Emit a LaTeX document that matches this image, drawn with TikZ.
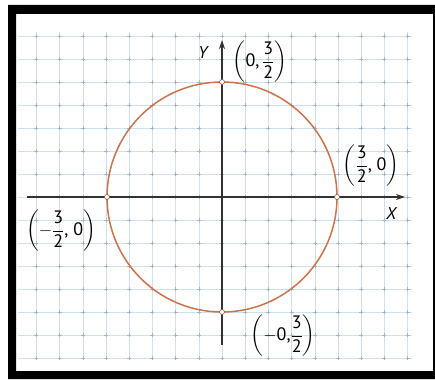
\documentclass[tikz,border=0pt]{standalone}
\usepackage{amsmath}
\usepackage{fontspec}
\setmainfont{PT Sans}
\usetikzlibrary{arrows.meta}
\definecolor{gridblue}{RGB}{205,226,240}
\definecolor{crossgray}{RGB}{170,180,190}
\definecolor{axisgray}{RGB}{50,50,50}
\definecolor{circ}{RGB}{205,115,75}
\tikzset{
  gridline/.style={gridblue,line width=0.6pt},
  crossmark/.style={crossgray,line width=0.5pt},
  axisline/.style={axisgray,line width=1.1pt,-{Stealth[length=9pt,width=6pt]}},
  curve/.style={circ,line width=1.5pt},
  ptmark/.style={circle,draw=circ!70!black,fill=white,inner sep=0pt,minimum size=5pt,line width=0.6pt},
  lbl/.style={inner sep=0pt,font=\fontsize{18}{21}\selectfont},
  axlbl/.style={inner sep=0pt,font=\fontsize{17}{20}\selectfont\itshape}
}
\begin{document}
\begin{tikzpicture}[x=1pt,y=-1pt]
\useasboundingbox (0,0) rectangle (435,379);
\fill[black,even odd rule] (8,5) rectangle (435,379) (16,14) rectangle (433,371);
% grid
\foreach \k in {-8,...,8} \draw[gridline] ({222+23.2*\k},32) -- ({222+23.2*\k},358);
\foreach \k in {-7,...,7} \draw[gridline] (18,{197+23*\k}) -- (412,{197+23*\k});
\foreach \i in {-8,...,8} \foreach \j in {-7,...,7}
  \draw[crossmark] ({222+23.2*\i-2},{197+23*\j}) -- ++(4,0) ({222+23.2*\i},{197+23*\j-2}) -- ++(0,4);
% axes
\coordinate (O) at (222,197);
\coordinate (xs) at (27,197);
\coordinate (xe) at (405,197);
\coordinate (ys) at (222,345);
\coordinate (ye) at (222,40);
\draw[axisline] (xs) -- (xe);
\draw[axisline] (ys) -- (ye);
% circle
\draw[curve] (O) circle[radius=115];
% points
\node[ptmark] (pr) at (337,197) {};
\node[ptmark] (pl) at (107,197) {};
\node[ptmark] (pt) at (222,82) {};
\node[ptmark] (pb) at (222,312) {};
% labels
\node[axlbl] (Y) at (203,53) {Y};
\node[axlbl] (X) at (391,214) {X};
\node[lbl] (lt) at (260,62) {$\left(\text{0,}\,\dfrac{\text{3}}{\text{2}}\right)$};
\node[lbl] (lr) at (371,166) {$\left(\dfrac{\text{3}}{\text{2}}\text{, 0}\right)$};
\node[lbl] (ll) at (61,231) {$\left(-\dfrac{\text{3}}{\text{2}}\text{, 0}\right)$};
\node[lbl] (lb) at (283,336) {$\left(-\text{0,}\dfrac{\text{3}}{\text{2}}\right)$};
\end{tikzpicture}
\end{document}
